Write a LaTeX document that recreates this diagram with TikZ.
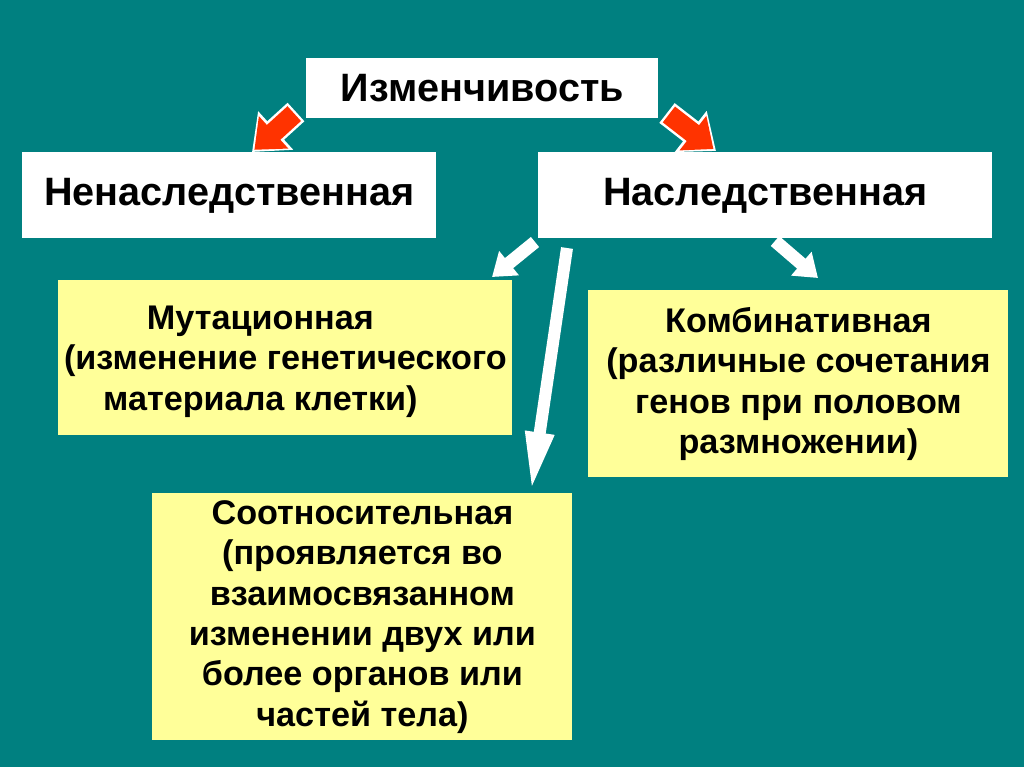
\documentclass[tikz,border=0pt]{standalone}
\usepackage{fontspec}
\setmainfont{Liberation Sans}
\usetikzlibrary{arrows.meta}
\definecolor{bgteal}{RGB}{0,128,128}
\definecolor{boxyellow}{RGB}{255,255,153}
\definecolor{arrred}{RGB}{255,51,0}
\tikzset{
  whitebox/.style={draw=none, fill=white, font=\fontsize{19.8}{23}\selectfont\bfseries, anchor=north west, inner sep=0pt, align=center},
  yellowbox/.style={draw=none, fill=boxyellow, font=\fontsize{17.1}{20.2}\selectfont\bfseries, anchor=north west, inner sep=0pt, align=center},
  redarrowout/.style={draw=white, line width=12.5pt, -{Triangle[width=25pt,length=16pt]}},
  redarrow/.style={draw=arrred, line width=10pt, -{Triangle[width=21pt,length=13pt]}, shorten >=1.6pt, shorten <=1.2pt},
  whitearrow/.style={draw=white, line width=6.5pt, -{Triangle[width=15pt,length=11pt]}},
  longarrow/.style={draw=white, line width=6pt, -{Triangle[width=13pt,length=30pt]}}
}
\begin{document}
\begin{tikzpicture}[x=0.5pt,y=-0.5pt]
\fill[bgteal] (0,0) rectangle (1024,767);
\useasboundingbox (0,0) rectangle (1024,767);

\node[whitebox, minimum width=176pt, minimum height=30pt] (izm) at (306,58) {Изменчивость};
\node[whitebox, minimum width=207pt, minimum height=43pt] (nen) at (22,152) {Ненаследственная};
\node[whitebox, minimum width=227pt, minimum height=43pt] (nas) at (538,152) {Наследственная};
\node[yellowbox, minimum width=227pt, minimum height=77.5pt, text depth=-3pt] (mut) at (58,280) {Мутационная\hspace*{25pt}\\(изменение генетического\hspace*{11pt}\\материала клетки)\hspace*{25pt}};
\node[yellowbox, minimum width=210pt, minimum height=93.5pt] (komb) at (588,290) {Комбинативная\\(различные сочетания\\генов при половом\\размножении)};
\node[yellowbox, minimum width=210pt, minimum height=123.5pt] (soot) at (152,493) {Соотносительная\\(проявляется во\\взаимосвязанном\\изменении двух или\\более органов или\\частей тела)};

% red arrows
\coordinate (r1s) at (296,112);
\coordinate (r1e) at (252,152);
\coordinate (r2s) at (667,113);
\coordinate (r2e) at (716,151);
\draw[redarrowout] (r1s) -- (r1e);
\draw[redarrow] (r1s) -- (r1e);
\draw[redarrowout] (r2s) -- (r2e);
\draw[redarrow] (r2s) -- (r2e);

% white arrows
\coordinate (w1s) at (535,242);
\coordinate (w1e) at (492,277);
\coordinate (w2s) at (567,248);
\coordinate (w2e) at (531,492);
\coordinate (w3s) at (775,241);
\coordinate (w3e) at (818,278);
\draw[whitearrow] (w1s) -- (w1e);
\draw[longarrow] (w2s) -- (w2e);
\draw[whitearrow] (w3s) -- (w3e);
\end{tikzpicture}
\end{document}
